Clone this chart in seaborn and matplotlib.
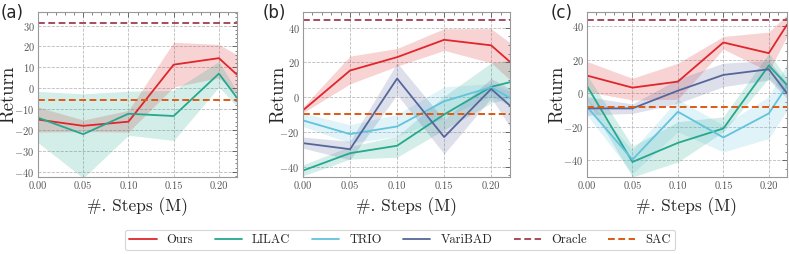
import numpy as np
import pandas as pd
import matplotlib
matplotlib.use("Agg")
import matplotlib.pyplot as plt
import seaborn as sns
from matplotlib.ticker import AutoMinorLocator, MultipleLocator

# ============================================================================
# DATA
# ============================================================================

steps = [0.00, 0.05, 0.10, 0.15, 0.20, 0.22]

# panel (a)
a_ours = [-15.0, -18.0, -16.0, 11.3, 14.4, 6.5]
a_ours_lo = [-21.0, -20.8, -21.0, 0.6, 5.0, -3.0]
a_ours_hi = [-9.0, -15.2, -10.6, 22.0, 21.0, 16.0]
a_lilac = [-14.1, -22.0, -12.2, -13.3, 7.0, -4.6]
a_lilac_lo = [-26.0, -43.0, -22.5, -25.0, 0.6, -8.6]
a_lilac_hi = [-1.5, -2.7, -1.4, -1.0, 12.8, -1.5]
a_oracle = 31.3
a_sac = -5.7

# panel (b)
b_ours = [-7.6, 15.3, 23.0, 33.0, 29.8, 20.3]
b_ours_lo = [-9.0, 7.6, 17.8, 26.9, 19.7, 10.0]
b_ours_hi = [-5.7, 23.6, 28.0, 39.4, 39.4, 31.3]
b_lilac = [-42.3, -32.3, -28.0, -10.0, 5.9, 8.6]
b_lilac_lo = [-45.3, -35.7, -34.6, -18.8, -3.4, -0.5]
b_lilac_hi = [-39.0, -28.4, -22.6, 0.5, 19.7, 21.3]
b_trio = [-13.4, -21.3, -16.9, -2.4, 5.7, -0.5]
b_trio_lo = [-16.9, -26.5, -22.6, -12.0, 0.5, -4.9]
b_trio_hi = [-9.2, -15.9, -10.0, 5.9, 7.8, 3.4]
b_varibad = [-26.5, -30.0, 10.7, -23.0, 4.7, -4.9]
b_varibad_lo = [-29.4, -36.1, 1.4, -32.7, -0.5, -17.0]
b_varibad_hi = [-23.0, -25.5, 19.7, -13.0, 10.7, 4.7]
b_oracle = 44.2
b_sac = -9.7

# panel (c)
c_ours = [10.6, 3.4, 7.0, 30.4, 24.0, 41.0]
c_ours_lo = [1.0, -4.0, -3.6, 26.4, 13.0, 34.0]
c_ours_hi = [19.0, 9.0, 18.0, 34.0, 36.6, 47.0]
c_lilac = [4.4, -41.0, -29.6, -21.0, 16.6, 5.0]
c_lilac_lo = [-4.0, -50.0, -41.0, -23.0, 9.0, -1.0]
c_lilac_hi = [11.0, -31.6, -17.0, -14.0, 24.0, 9.0]
c_trio = [-8.0, -39.6, -11.0, -26.4, -12.0, 4.4]
c_trio_lo = [-13.0, -48.0, -23.0, -35.0, -27.0, -10.0]
c_trio_hi = [-3.0, -34.0, -3.6, -19.0, -2.0, 17.6]
c_varibad = [-9.0, -9.0, 1.6, 11.0, 14.4, 0.0]
c_varibad_lo = [-13.0, -12.0, -6.0, 4.0, 8.0, -3.0]
c_varibad_hi = [-2.0, -6.4, 8.6, 18.0, 19.6, 6.0]
c_oracle = 43.6
c_sac = -8.4

# ============================================================================
# STYLE
# ============================================================================

COLORS = {
    'Ours': '#e0252b',
    'LILAC': '#25a88f',
    'TRIO': '#62c3dc',
    'VariBAD': '#56669a',
    'Oracle': '#a84a5f',
    'SAC': '#dd5a12',
}

sns.set_theme(style='white')
plt.rcParams['font.family'] = ['cmr10', 'DejaVu Serif']
plt.rcParams['mathtext.fontset'] = 'cm'
plt.rcParams['axes.formatter.use_mathtext'] = True
plt.rcParams['axes.unicode_minus'] = True


def style_axes(ax, ylim, ymajor, ylab_x):
    ax.set_xlim(0, 0.22)
    ax.set_ylim(*ylim)
    ax.xaxis.set_major_locator(MultipleLocator(0.05))
    ax.yaxis.set_major_locator(MultipleLocator(ymajor))
    ax.xaxis.set_minor_locator(AutoMinorLocator(5))
    ax.yaxis.set_minor_locator(AutoMinorLocator(5 if ymajor == 10 else 4))
    ax.xaxis.set_major_formatter(plt.FuncFormatter(lambda v, p: f'{v:.2f}'))
    ax.tick_params(which='both', direction='in', top=True, right=True,
                   colors='#555555', labelsize=7.5)
    ax.tick_params(axis='y', pad=2.5)
    ax.tick_params(which='major', length=3.5, width=0.6)
    ax.tick_params(which='minor', length=1.8, width=0.5)
    for sp in ax.spines.values():
        sp.set_color('#999999')
        sp.set_linewidth(0.8)
    ax.grid(True, which='major', linestyle='--', color='#bbbbbb', linewidth=0.6)
    ax.set_axisbelow(True)
    ax.set_xlabel('#. Steps (M)', fontsize=12.5)
    ax.set_ylabel('Return', fontsize=13.5)
    ax.xaxis.set_label_coords(0.5, -0.125)
    ax.yaxis.set_label_coords(ylab_x, 0.5)


def draw_method(ax, name, mean, lo, hi):
    ax.fill_between(steps, lo, hi, color=COLORS[name], alpha=0.2, linewidth=0)
    sns.lineplot(x=steps, y=mean, ax=ax, color=COLORS[name], linewidth=1.3,
                 label=name, legend=False)


def draw_baselines(ax, oracle, sac):
    ax.axhline(oracle, color=COLORS['Oracle'], linestyle=(0, (3.5, 1.8)), linewidth=1.4,
               label='Oracle')
    ax.axhline(sac, color=COLORS['SAC'], linestyle=(0, (3.5, 1.8)), linewidth=1.4,
               label='SAC')


# ============================================================================
# FIGURE
# ============================================================================

W, H = 789, 254
fig = plt.figure(figsize=(W / 100, H / 100), dpi=100)


def px_axes(left, right, top, bottom):
    return fig.add_axes([left / W, 1 - bottom / H, (right - left) / W, (bottom - top) / H])


ax_a = px_axes(38, 237, 12, 177)
ax_b = px_axes(303, 510, 12, 177)
ax_c = px_axes(587, 787, 12, 177)

# (a)
draw_method(ax_a, 'Ours', a_ours, a_ours_lo, a_ours_hi)
draw_method(ax_a, 'LILAC', a_lilac, a_lilac_lo, a_lilac_hi)
draw_baselines(ax_a, a_oracle, a_sac)
style_axes(ax_a, (-42.5, 36.5), 10, (17 - 38) / 199)

# (b)
draw_method(ax_b, 'Ours', b_ours, b_ours_lo, b_ours_hi)
draw_method(ax_b, 'LILAC', b_lilac, b_lilac_lo, b_lilac_hi)
draw_method(ax_b, 'TRIO', b_trio, b_trio_lo, b_trio_hi)
draw_method(ax_b, 'VariBAD', b_varibad, b_varibad_lo, b_varibad_hi)
draw_baselines(ax_b, b_oracle, b_sac)
style_axes(ax_b, (-46, 49), 20, (287 - 303) / 207)

# (c)
draw_method(ax_c, 'Ours', c_ours, c_ours_lo, c_ours_hi)
draw_method(ax_c, 'LILAC', c_lilac, c_lilac_lo, c_lilac_hi)
draw_method(ax_c, 'TRIO', c_trio, c_trio_lo, c_trio_hi)
draw_method(ax_c, 'VariBAD', c_varibad, c_varibad_lo, c_varibad_hi)
draw_baselines(ax_c, c_oracle, c_sac)
style_axes(ax_c, (-50, 48.6), 20, (566 - 587) / 200)

for x, lab in [(1, '(a)'), (263, '(b)'), (551, '(c)')]:
    fig.text(x / W, 1 - 13 / H, lab, fontsize=12, family='DejaVu Sans', va='center', ha='left')

handles, labels = ax_c.get_legend_handles_labels()
order = ['Ours', 'LILAC', 'TRIO', 'VariBAD', 'Oracle', 'SAC']
hmap = dict(zip(labels, handles))
leg = fig.legend([hmap[k] for k in order], order, loc='center', ncol=6,
                 bbox_to_anchor=(400 / W, 1 - 240 / H), fontsize=9, frameon=True,
                 fancybox=True, edgecolor='#cccccc', handlelength=2.2,
                 columnspacing=1.7, borderpad=0.35)
leg.get_frame().set_linewidth(0.8)

fig.savefig('out.png', dpi=100)
